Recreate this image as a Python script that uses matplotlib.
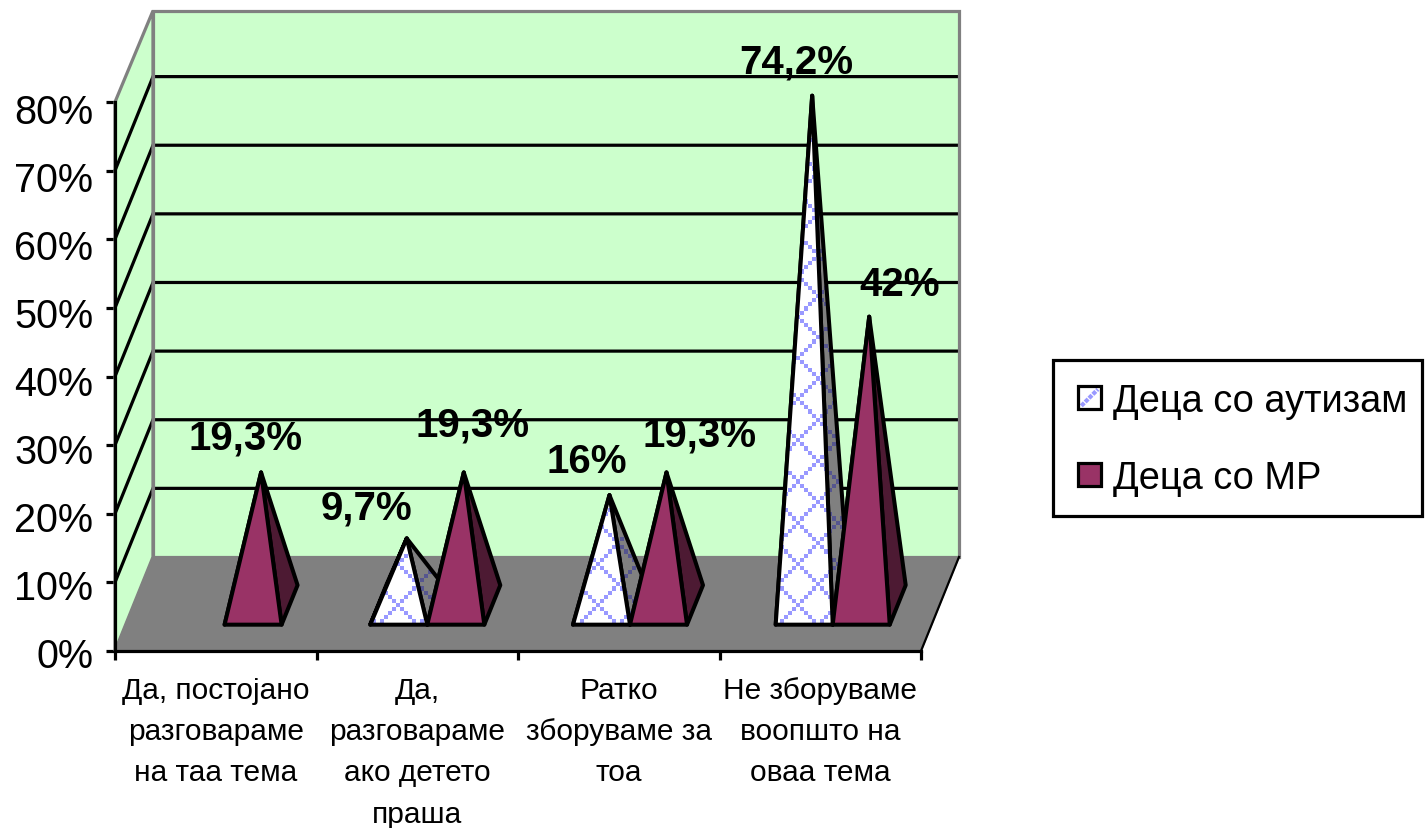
import numpy as np
import matplotlib
matplotlib.use('Agg')
import matplotlib.pyplot as plt
from matplotlib.legend_handler import HandlerBase
from matplotlib.lines import Line2D
from matplotlib.patches import Patch, Polygon, Rectangle
from matplotlib.transforms import ScaledTranslation

plt.rcParams['font.family'] = ['Liberation Sans', 'DejaVu Sans']

categories = [
    'Да, постојано\nразговараме\nна таа тема',
    'Да,\nразговараме\nако детето\nпраша',
    'Ратко\nзборуваме за\nтоа',
    'Не зборуваме\nвоопшто на\nоваа тема',
]
series_names = ['Деца со аутизам', 'Деца со МР']
autism = [0, 9.7, 16, 74.2]
mr = [19.3, 19.3, 19.3, 42]
y_ticks = [0, 10, 20, 30, 40, 50, 60, 70, 80]

# label offsets from the pyramid tip, in pixels (autism, mr)
autism_label_offset = [(0, 0), (-40, 31), (-23, 34), (-16, 34)]
mr_label_offset = [(-16, 35), (9, 48), (33, 38), (30, 33)]

WALL = '#CCFFCC'
GRAY = '#808080'
MR_FRONT = '#993366'
MR_SIDE = '#4D1A33'
LW = 2.3
LW_PYRAMID = 2.9

# oblique depth of the fake 3d box, in data units
DEPTH_X = 0.1886
DEPTH_Y = 13.7
WALL_TOP = 79.6
BAR_W = 0.283
CAT_STEP = 1.006
D_FRONT = 0.28
D_BACK = 0.70
D_MID = (D_FRONT + D_BACK) / 2


def project(x, y, d):
    return (x + d * DEPTH_X, y + d * DEPTH_Y)


def check_texture(color):
    # pixel style check pattern used by the autism series
    rows, cols = np.indices((150, 225))
    on = ((rows + cols) % 10 == 0) | ((rows - cols) % 10 == 0)
    tex = np.zeros((150, 225, 4))
    tex[..., :3] = matplotlib.colors.to_rgb(color)
    tex[..., 3] = on
    return tex


def draw_face(ax, pts, face, z, texture=None):
    ax.add_patch(Polygon(pts, closed=True, facecolor=face, edgecolor='none',
                         clip_on=False, zorder=z))
    if texture is not None:
        clip = Polygon(pts, closed=True, transform=ax.transData)
        im = ax.imshow(texture, extent=(0, 4.47, -5, 85), aspect='auto',
                       interpolation='nearest', zorder=z + 0.1)
        im.set_clip_path(clip)
        im.set_clip_box(None)
    ax.add_patch(Polygon(pts, closed=True, facecolor='none', edgecolor='black',
                         linewidth=LW_PYRAMID, joinstyle='round', clip_on=False,
                         zorder=z + 0.2))


def draw_pyramid(ax, x0, value, front, side, z, front_tex=None, side_tex=None):
    apex = project(x0 + BAR_W / 2, value, D_MID)
    fl = project(x0, 0, D_FRONT)
    fr = project(x0 + BAR_W, 0, D_FRONT)
    bl = project(x0, 0, D_BACK)
    br = project(x0 + BAR_W, 0, D_BACK)
    draw_face(ax, [fl, bl, apex], side, z, side_tex)
    draw_face(ax, [fr, br, apex], side, z + 1, side_tex)
    draw_face(ax, [fl, fr, apex], front, z + 2, front_tex)
    return apex


class SwatchHandler(HandlerBase):
    def create_artists(self, legend, orig_handle, xdescent, ydescent, width, height, fontsize, trans):
        x = -xdescent
        y = -ydescent + (height - width) / 2
        fill = Rectangle((x, y), width, width, facecolor=orig_handle.get_facecolor(),
                         edgecolor='none', transform=trans)
        edge = Rectangle((x, y), width, width, facecolor='none',
                         edgecolor='black', linewidth=LW, transform=trans)
        if orig_handle.get_label() != series_names[0]:
            return [fill, edge]
        mark = Line2D([x + 0.15 * width, x + 0.85 * width], [y + 0.15 * width, y + 0.85 * width],
                      color='#9999FF', linewidth=3, linestyle=(0, (1, 0.3)), transform=trans)
        return [fill, mark, edge]


fig = plt.figure(figsize=(14.25, 8.29), dpi=100)
ax = fig.add_axes([115 / 1425, 1 - 652 / 829, 806 / 1425, 549 / 829])

# box walls and floor
floor = [(0, 0), (4, 0), project(4, 0, 1), project(0, 0, 1)]
back = [project(0, 0, 1), project(4, 0, 1), project(4, WALL_TOP, 1), project(0, WALL_TOP, 1)]
side = [(0, 0), project(0, 0, 1), project(0, WALL_TOP, 1), (0, 80)]
ax.add_patch(Polygon(back, facecolor=WALL, edgecolor='none', clip_on=False, zorder=1))
ax.add_patch(Polygon(side, facecolor=WALL, edgecolor='none', clip_on=False, zorder=1))

for tick in y_ticks[1:-1]:
    a = project(0, tick, 0)
    b = project(0, tick, 1)
    c = project(4, tick, 1)
    ax.plot([a[0], b[0], c[0]], [a[1], b[1], c[1]], color='black', linewidth=LW,
            clip_on=False, zorder=2, solid_joinstyle='miter')

# gray wall edges sit over the gridlines
ax.add_patch(Polygon(back, facecolor='none', edgecolor=GRAY, linewidth=LW, clip_on=False, zorder=3))
ax.add_patch(Polygon(side, facecolor='none', edgecolor=GRAY, linewidth=LW, clip_on=False, zorder=3))
ax.add_patch(Polygon(floor, facecolor=GRAY, edgecolor=GRAY, linewidth=1, clip_on=False, zorder=3.5))
ax.plot([4, project(4, 0, 1)[0]], [0, project(4, 0, 1)[1]], color='black', linewidth=1.6,
        clip_on=False, zorder=3.6)

tex_front = check_texture('#9999FF')
tex_side = check_texture('#55558F')

z = 5
tips = []
for i in range(len(categories)):
    if autism[i] > 0:
        tip = draw_pyramid(ax, i * CAT_STEP + 0.208, autism[i], 'white', GRAY, z, tex_front, tex_side)
        tips.append((tip, autism[i], autism_label_offset[i]))
    z += 5
    tip = draw_pyramid(ax, i * CAT_STEP + 0.491, mr[i], MR_FRONT, MR_SIDE, z)
    tips.append((tip, mr[i], mr_label_offset[i]))
    z += 5

for tip, value, offset in tips:
    label = f'{value:g}%'.replace('.', ',')
    ax.annotate(label, xy=tip, xytext=offset, textcoords='offset pixels', ha='center',
                va='center', fontsize=29, fontweight='bold', annotation_clip=False,
                zorder=100)

ax.set_xlim(0, 4)
ax.set_ylim(0, 80)
ax.set_facecolor('none')

ax.set_yticks(y_ticks)
ax.set_yticklabels([f'{t}%' for t in y_ticks], fontsize=28.5)
ax.tick_params(axis='y', length=6.5, width=LW, pad=9)
# the labels drift a little below their ticks towards the top
for t, lab in zip(y_ticks, ax.get_yticklabels()):
    shift = ScaledTranslation(0, -(1 + t / 16) / 100, fig.dpi_scale_trans)
    lab.set_transform(lab.get_transform() + shift)

ax.set_xticks([0, 1, 2, 3, 4])
ax.set_xticklabels([])
ax.set_xticks([0.5, 1.5, 2.5, 3.5], minor=True)
ax.set_xticklabels(categories, minor=True, fontsize=21.5)
ax.tick_params(axis='x', which='major', length=6.5, width=LW)
ax.tick_params(axis='x', which='minor', length=0, pad=18)
for lab in ax.get_xticklabels(minor=True):
    lab.set_linespacing(1.6)
    lab.set_verticalalignment('top')

for name in ['top', 'right']:
    ax.spines[name].set_visible(False)
for name in ['left', 'bottom']:
    ax.spines[name].set_linewidth(LW)
    ax.spines[name].set_zorder(4)

# legend frame drawn separately because its padding is uneven
fig.add_artist(Rectangle((1053 / 1425, 1 - 517 / 829), 369 / 1425, 156 / 829,
                         transform=fig.transFigure, facecolor='white', edgecolor='black',
                         linewidth=LW, zorder=-1))
handles = [
    Patch(facecolor='white', edgecolor='black', label=series_names[0]),
    Patch(facecolor=MR_FRONT, edgecolor='black', label=series_names[1]),
]
leg = ax.legend(handles=handles, loc='center', bbox_to_anchor=(1242.5 / 1425, 1 - 440.5 / 829),
                bbox_transform=fig.transFigure, fontsize=27.4, frameon=False,
                handlelength=0.62, handleheight=0.62, handletextpad=0.3, labelspacing=1.08,
                borderpad=0, borderaxespad=0, handler_map={Patch: SwatchHandler()})
leg.set_zorder(200)

fig.savefig('out.png', dpi=100, facecolor='white')
